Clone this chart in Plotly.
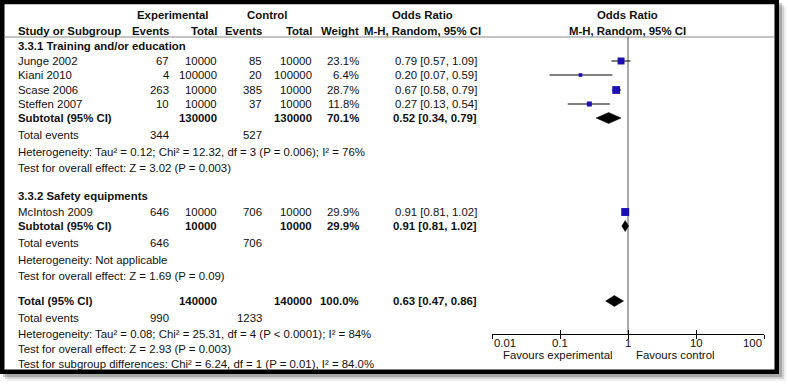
import math
import plotly.graph_objects as go

W, H = 788, 384

# ---------------- data ----------------
studies = ["Junge 2002", "Kiani 2010", "Scase 2006", "Steffen 2007", "McIntosh 2009"]
study_group = [0, 0, 0, 0, 1]
exp_events = [67, 4, 263, 10, 646]
exp_total = [10000, 100000, 10000, 10000, 10000]
ctrl_events = [85, 20, 385, 37, 706]
ctrl_total = [10000, 100000, 10000, 10000, 10000]
weight = [23.1, 6.4, 28.7, 11.8, 29.9]
or_est = [0.79, 0.20, 0.67, 0.27, 0.91]
or_lo = [0.57, 0.07, 0.58, 0.13, 0.81]
or_hi = [1.09, 0.59, 0.79, 0.54, 1.02]

subgroups = ["3.3.1 Training and/or education", "3.3.2 Safety equipments"]
sub_exp_total = [130000, 10000]
sub_ctrl_total = [130000, 10000]
sub_weight = [70.1, 29.9]
sub_or = [0.52, 0.91]
sub_lo = [0.34, 0.81]
sub_hi = [0.79, 1.02]
sub_exp_events = [344, 646]
sub_ctrl_events = [527, 706]
sub_het = ["Heterogeneity: Tau² = 0.12; Chi² = 12.32, df = 3 (P = 0.006); I² = 76%",
           "Heterogeneity: Not applicable"]
sub_test = ["Test for overall effect: Z = 3.02 (P = 0.003)",
            "Test for overall effect: Z = 1.69 (P = 0.09)"]

tot_exp_total = 140000
tot_ctrl_total = 140000
tot_weight = 100.0
tot_or, tot_lo, tot_hi = 0.63, 0.47, 0.86
tot_exp_events = 990
tot_ctrl_events = 1233
tot_het = "Heterogeneity: Tau² = 0.08; Chi² = 25.31, df = 4 (P < 0.0001); I² = 84%"
tot_test = "Test for overall effect: Z = 2.93 (P = 0.003)"
subgroup_diff = "Test for subgroup differences: Chi² = 6.24, df = 1 (P = 0.01), I² = 84.0%"

axis_ticks = [0.01, 0.1, 1, 10, 100]
axis_tick_labels = ["0.01", "0.1", "1", "10", "100"]
favours = ["Favours experimental", "Favours control"]

# ---------------- layout (pixels) ----------------
ROW_HDR1, ROW_HDR2, ROW_HLINE = 15, 31, 37
ROW_GROUP = [46, 196]
ROW_STUDY = [61, 75, 90, 104, 212]
ROW_SUB = [118, 226]
ROW_EV = [135, 243]
ROW_HET = [152, 260]
ROW_TEST = [168, 276]
ROW_TOT, ROW_TOT_EV, ROW_TOT_HET, ROW_TOT_TEST, ROW_DIFF = 301, 318, 334, 349, 364
ROW_AXIS, ROW_TICKLAB, ROW_FAV = 334, 343, 355

COL_LABEL, COL_EV_E, COL_TOT_E, COL_EV_C, COL_TOT_C, COL_WT, COL_OR = 17, 170, 218, 263, 313, 360, 478
COL_OR_HDR, COL_EXP_HDR, COL_CTRL_HDR = 422, 173, 267
PLOT_X0, PLOT_X1 = 492, 764

FONT = "Liberation Sans, Arial, sans-serif"
FS = 11.4
TXT = "#111111"
BLUE = "#1a0fb0"
DIAMOND_H = 5.5

fig = go.Figure()
ann = []


def txt(x, y, s, anchor="left", bold=False):
    ann.append(dict(x=x / W, xref="paper", y=y, yref="y", text=("<b>%s</b>" % s) if bold else s,
                    showarrow=False, xanchor=anchor, yanchor="middle",
                    font=dict(family=FONT, size=FS, color=TXT), borderpad=0))


def ci(lo, e, hi):
    return "%.2f [%.2f, %.2f]" % (e, lo, hi)


# headers
txt(COL_EXP_HDR, ROW_HDR1, "Experimental", "center", True)
txt(COL_CTRL_HDR, ROW_HDR1, "Control", "center", True)
txt(COL_OR_HDR, ROW_HDR1, "Odds Ratio", "center", True)
txt((PLOT_X0 + PLOT_X1) / 2 - 1, ROW_HDR1, "Odds Ratio", "center", True)
txt(COL_LABEL, ROW_HDR2, "Study or Subgroup", "left", True)
txt(COL_EV_E, ROW_HDR2, "Events", "right", True)
txt(COL_TOT_E, ROW_HDR2, "Total", "right", True)
txt(COL_EV_C, ROW_HDR2, "Events", "right", True)
txt(COL_TOT_C, ROW_HDR2, "Total", "right", True)
txt(COL_WT, ROW_HDR2, "Weight", "right", True)
txt(COL_OR_HDR, ROW_HDR2, "M-H, Random, 95% CI", "center", True)
txt((PLOT_X0 + PLOT_X1) / 2 - 1, ROW_HDR2, "M-H, Random, 95% CI", "center", True)

# study rows
for i, s in enumerate(studies):
    y = ROW_STUDY[i]
    txt(COL_LABEL, y, s)
    txt(COL_EV_E, y, str(exp_events[i]), "right")
    txt(COL_TOT_E, y, str(exp_total[i]), "right")
    txt(COL_EV_C, y, str(ctrl_events[i]), "right")
    txt(COL_TOT_C, y, str(ctrl_total[i]), "right")
    txt(COL_WT, y, "%.1f%%" % weight[i], "right")
    txt(COL_OR, y, ci(or_lo[i], or_est[i], or_hi[i]), "right")

# subgroups
for g, name in enumerate(subgroups):
    txt(COL_LABEL, ROW_GROUP[g], name, "left", True)
    y = ROW_SUB[g]
    txt(COL_LABEL, y, "Subtotal (95% CI)", "left", True)
    txt(COL_TOT_E, y, str(sub_exp_total[g]), "right", True)
    txt(COL_TOT_C, y, str(sub_ctrl_total[g]), "right", True)
    txt(COL_WT, y, "%.1f%%" % sub_weight[g], "right", True)
    txt(COL_OR, y, ci(sub_lo[g], sub_or[g], sub_hi[g]), "right", True)
    txt(COL_LABEL, ROW_EV[g], "Total events")
    txt(COL_EV_E, ROW_EV[g], str(sub_exp_events[g]), "right")
    txt(COL_EV_C, ROW_EV[g], str(sub_ctrl_events[g]), "right")
    txt(COL_LABEL, ROW_HET[g], sub_het[g])
    txt(COL_LABEL, ROW_TEST[g], sub_test[g])

# overall
txt(COL_LABEL, ROW_TOT, "Total (95% CI)", "left", True)
txt(COL_TOT_E, ROW_TOT, str(tot_exp_total), "right", True)
txt(COL_TOT_C, ROW_TOT, str(tot_ctrl_total), "right", True)
txt(COL_WT, ROW_TOT, "%.1f%%" % tot_weight, "right", True)
txt(COL_OR, ROW_TOT, ci(tot_lo, tot_or, tot_hi), "right", True)
txt(COL_LABEL, ROW_TOT_EV, "Total events")
txt(COL_EV_E, ROW_TOT_EV, str(tot_exp_events), "right")
txt(COL_EV_C, ROW_TOT_EV, str(tot_ctrl_events), "right")
txt(COL_LABEL, ROW_TOT_HET, tot_het)
txt(COL_LABEL, ROW_TOT_TEST, tot_test)
txt(COL_LABEL, ROW_DIFF, subgroup_diff)

# ---- forest marks ----
fig.add_trace(go.Scatter(x=[1, 1], y=[ROW_HLINE, ROW_AXIS], mode="lines",
                         line=dict(color="#555555", width=1), hoverinfo="skip"))
cx, cy = [], []
for i in range(len(studies)):
    cx += [or_lo[i], or_hi[i], None]
    cy += [ROW_STUDY[i], ROW_STUDY[i], None]
fig.add_trace(go.Scatter(x=cx, y=cy, mode="lines", line=dict(color="black", width=1), hoverinfo="skip"))
fig.add_trace(go.Scatter(x=or_est, y=ROW_STUDY, mode="markers",
                         marker=dict(symbol="square", color=BLUE, opacity=1,
                                     size=[1.45 * math.sqrt(w) for w in weight],
                                     line=dict(width=0)), hoverinfo="skip"))
dx, dy = [], []
for lo, e, hi, y in list(zip(sub_lo, sub_or, sub_hi, ROW_SUB)) + [(tot_lo, tot_or, tot_hi, ROW_TOT)]:
    dx += [lo, e, hi, e, lo, None]
    dy += [y, y - DIAMOND_H, y, y + DIAMOND_H, y, None]
fig.add_trace(go.Scatter(x=dx, y=dy, mode="lines", fill="toself", fillcolor="black",
                         line=dict(color="black", width=0.5), hoverinfo="skip"))
fig.add_trace(go.Scatter(x=[1], y=[ROW_AXIS], xaxis="x2", mode="markers",
                         marker=dict(opacity=0), hoverinfo="skip"))

for v, lab in zip(axis_ticks, axis_tick_labels):
    anchor = "left" if v == axis_ticks[0] else ("right" if v == axis_ticks[-1] else "center")
    ann.append(dict(x=math.log10(v), xref="x", y=ROW_TICKLAB, yref="y", text=lab, showarrow=False,
                    xanchor=anchor, yanchor="middle", font=dict(family=FONT, size=FS, color=TXT)))
ann.append(dict(x=0, xref="x", y=ROW_FAV, yref="y", text=favours[0], showarrow=False, xanchor="right",
                xshift=-13, yanchor="middle", font=dict(family=FONT, size=FS, color=TXT)))
ann.append(dict(x=0, xref="x", y=ROW_FAV, yref="y", text=favours[1], showarrow=False, xanchor="left",
                xshift=6, yanchor="middle", font=dict(family=FONT, size=FS, color=TXT)))

# ---- frame, shadow, header rule ----
shapes = []
for k, a in [(7, 0.06), (5, 0.12), (3, 0.2)]:
    shapes.append(dict(type="rect", xref="paper", yref="y", x0=k / W, x1=(779 + k) / W,
                       y0=k, y1=374 + k, line=dict(width=0), fillcolor="rgba(0,0,0,%s)" % a, layer="below"))
shapes.append(dict(type="rect", xref="paper", yref="y", x0=2.25 / W, x1=776.75 / W, y0=2, y1=371.75,
                   line=dict(color="black", width=4.5), fillcolor="white", layer="below"))
shapes.append(dict(type="line", xref="paper", yref="y", x0=4.5 / W, x1=774.5 / W, y0=ROW_HLINE, y1=ROW_HLINE,
                   line=dict(color="#888888", width=1), layer="below"))

axis_pos = 1 - ROW_AXIS / H
xcommon = dict(type="log", range=[-2, 2], domain=[PLOT_X0 / W, PLOT_X1 / W], anchor="free",
               position=axis_pos, tickvals=axis_ticks, showticklabels=False, showgrid=False,
               zeroline=False, tickcolor="black", tickwidth=1, ticklen=4, fixedrange=True)
fig.update_layout(
    width=W, height=H, margin=dict(l=0, r=0, t=0, b=0, pad=0),
    paper_bgcolor="white", plot_bgcolor="rgba(0,0,0,0)", showlegend=False,
    xaxis=dict(**xcommon, showline=True, linecolor="black", linewidth=1, ticks="outside"),
    xaxis2=dict(**xcommon, overlaying="x", showline=False, ticks="inside"),
    yaxis=dict(range=[H, 0], domain=[0, 1], visible=False, fixedrange=True),
    annotations=ann, shapes=shapes,
)
fig.write_html("out.html", config={"displayModeBar": False},
               post_script="document.body.style.margin='0';document.body.style.overflow='hidden';")
